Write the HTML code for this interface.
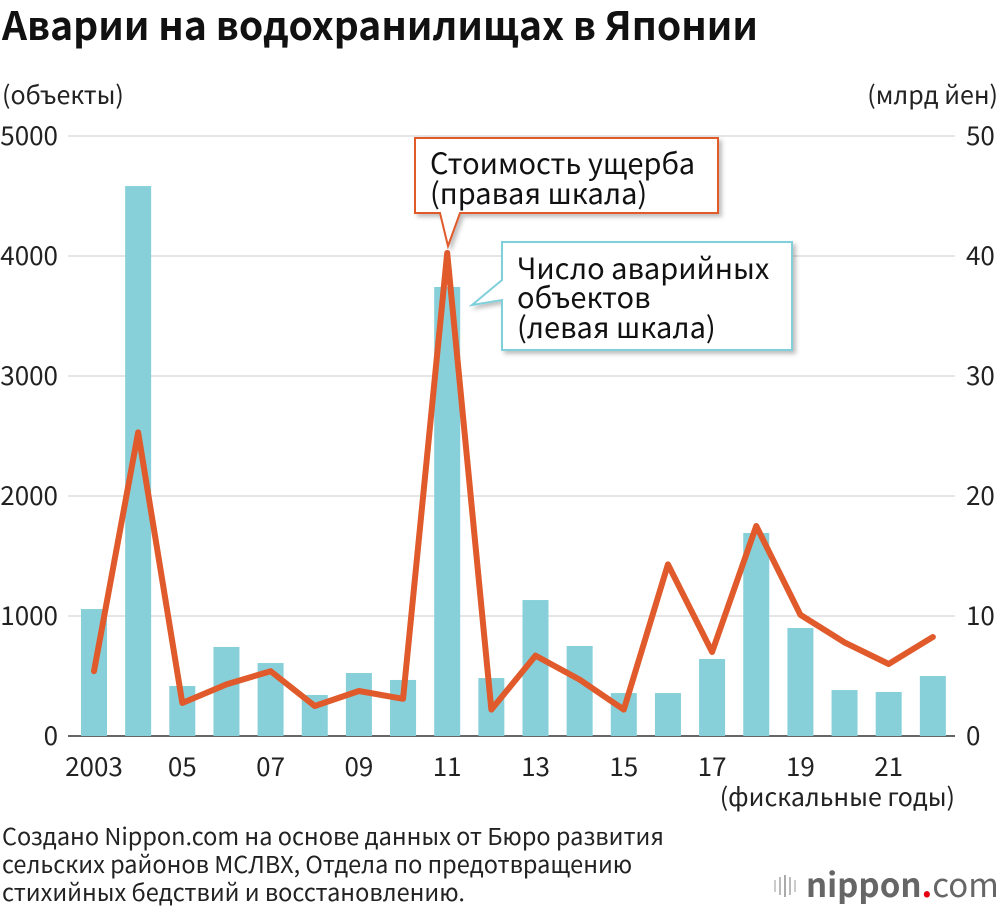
<!DOCTYPE html>
<html><head><meta charset="utf-8"><style>
body{margin:0;width:1000px;height:910px;background:#fff;overflow:hidden}
svg text{font-family:"Noto Sans CJK JP","DejaVu Sans",sans-serif}
</style></head><body>
<svg id="c" width="1000" height="910">
<defs><filter id="sh" x="-10%" y="-10%" width="130%" height="140%"><feDropShadow dx="3" dy="3" stdDeviation="2" flood-color="#000" flood-opacity="0.25"/></filter></defs>
<text x="2" y="40" font-size="39" font-weight="bold" fill="#111">Аварии на водохранилищах в Японии</text>
<text x="2" y="104" font-size="25" fill="#222">(объекты)</text>
<text x="998" y="104" font-size="25" fill="#222" text-anchor="end">(млрд йен)</text>
<text x="955" y="806" font-size="25" fill="#222" text-anchor="end">(фискальные годы)</text>
<text font-size="23.5" fill="#222"><tspan x="2" y="845">Создано Nippon.com на основе данных от Бюро развития</tspan><tspan x="2" y="873">сельских районов МСЛВХ, Отдела по предотвращению</tspan><tspan x="2" y="901">стихийных бедствий и восстановлению.</tspan></text>
<g>
<rect x="774" y="880" width="2" height="12" fill="#ccc"/><rect x="779" y="877" width="2" height="18" fill="#bbb"/><rect x="784" y="875" width="2" height="22" fill="#aaa"/><rect x="789" y="877" width="2" height="18" fill="#bbb"/><rect x="794" y="880" width="2" height="12" fill="#ccc"/>
<text x="806" y="897" font-size="33" font-weight="bold" fill="#666">nippon<tspan fill="#e60012">.</tspan><tspan font-weight="normal">com</tspan></text>
</g>
<g id="plot"></g>
</svg>
<script>
const years=["2003","2004","2005","2006","2007","2008","2009","2010","2011","2012","2013","2014","2015","2016","2017","2018","2019","2020","2021","2022"];
const xLabels=["2003","","05","","07","","09","","11","","13","","15","","17","","19","","21",""];
const incidents=[1058,4583,417,742,608,342,525,467,3742,483,1133,750,358,358,642,1692,900,383,367,500];
const damage=[5.4,25.3,2.75,4.3,5.4,2.5,3.75,3.1,40.25,2.2,6.7,4.7,2.2,14.3,7,17.5,10.1,7.8,6,8.25];
const leftTicks=[0,1000,2000,3000,4000,5000];
const rightTicks=[0,10,20,30,40,50];
const NS="http://www.w3.org/2000/svg";
const g=document.getElementById('plot');
const x=i=>94+i*44.15;
const yL=v=>736-v*0.12;
const yR=v=>736-v*12;
function el(t,a){const e=document.createElementNS(NS,t);for(const k in a)e.setAttribute(k,a[k]);g.appendChild(e);return e;}
leftTicks.forEach((v,i)=>{
 const l=el('line',{x1:68,x2:955,y1:yL(v),y2:yL(v),stroke:v===0?'#333':'#ccc','stroke-width':v===0?1.5:1});
 
 
 const t=el('text',{x:58,y:yL(v)+9,'font-size':26,'text-anchor':'end',fill:'#222'});t.textContent=v;
 
 
 const r=el('text',{x:966,y:yR(rightTicks[i])+9,'font-size':26,fill:'#222'});r.textContent=rightTicks[i];
 
 
});
incidents.forEach((v,i)=>{
 const b=el('rect',{x:x(i)-13,y:yL(v),width:26,height:736-yL(v),fill:'#87d0da'});
 
 
 if(xLabels[i]){const t=el('text',{x:x(i),y:776,'font-size':26,'text-anchor':'middle',fill:'#222'});t.textContent=xLabels[i];
 
 }
});
const p=el('polyline',{points:damage.map((v,i)=>x(i)+','+yR(v)).join(' '),fill:'none',stroke:'#e05a2b','stroke-width':6,'stroke-linejoin':'round','stroke-linecap':'round'});


const c1=el('path',{d:'M415,138 H718 V213 H460 L448,246 L440,213 H415 Z',fill:'#fff',stroke:'#e05a2b','stroke-width':2,filter:'url(#sh)'});


const t1=el('text',{'font-size':29,fill:'#111'});t1.innerHTML='<tspan x="430" y="174">Стоимость ущерба</tspan><tspan x="430" y="204">(правая шкала)</tspan>';


const c2=el('path',{d:'M502,242 H792 V350 H502 V300 L472,305 L502,280 Z',fill:'#fff',stroke:'#7fd0da','stroke-width':2,filter:'url(#sh)'});


const t2=el('text',{'font-size':29,fill:'#111'});t2.innerHTML='<tspan x="517" y="279">Число аварийных</tspan><tspan x="517" y="308">объектов</tspan><tspan x="517" y="338">(левая шкала)</tspan>';


</script>
</body></html>
